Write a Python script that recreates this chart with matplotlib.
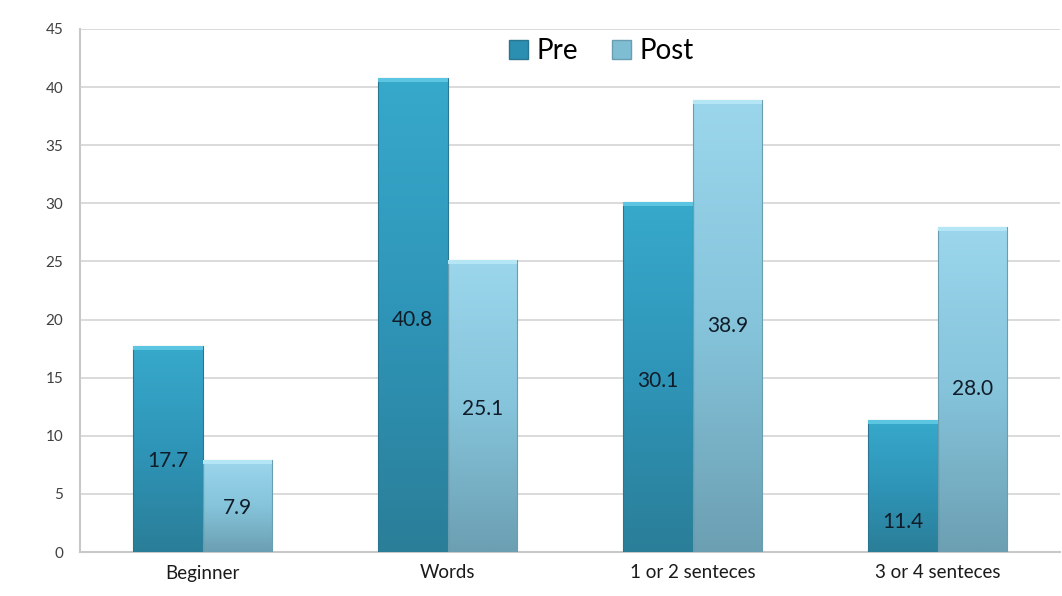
import matplotlib
matplotlib.use("Agg")
import matplotlib.pyplot as plt
import numpy as np
from matplotlib.patches import Patch
from matplotlib.colors import LinearSegmentedColormap

categories = ["Beginner", "Words", "1 or 2 senteces", "3 or 4 senteces"]
pre_values = [17.7, 40.8, 30.1, 11.4]
post_values = [7.9, 25.1, 38.9, 28.0]
series_names = ["Pre", "Post"]
yticks = [0, 5, 10, 15, 20, 25, 30, 35, 40, 45]
label_frac_pre = [0.44, 0.49, 0.49, 0.23]
label_frac_post = [0.48, 0.49, 0.5, 0.5]

plt.rcParams['font.family'] = ['Lato', 'DejaVu Sans']

fig = plt.figure(figsize=(10.62, 5.96), dpi=100)
ax = fig.add_axes([80/1062, 44/596, 980/1062, 523/596])

pre_cmap = LinearSegmentedColormap.from_list("pre", ["#2a7e98", "#2f95b8", "#37a9cb"])
post_cmap = LinearSegmentedColormap.from_list("post", ["#6c9fb2", "#85c4db", "#9bd6ec"])

x = np.arange(len(categories))
w = 0.285

def draw_bars(xs, vals, cmap, capcol, edgecol):
    bars = ax.bar(xs, vals, width=w, color="none", edgecolor="none", zorder=3)
    grad = np.linspace(0, 1, 256).reshape(-1, 1)
    for b, v in zip(bars, vals):
        x0 = b.get_x()
        im = ax.imshow(grad, cmap=cmap, origin="lower", aspect="auto",
                       extent=[x0, x0 + w, 0, v], zorder=3)
        im.set_clip_path(b)
        ax.bar(b.get_x() + w/2, v, width=w, color="none", edgecolor=edgecol, linewidth=0.8, zorder=4)
        ax.bar(b.get_x() + w/2, 0.35, bottom=v - 0.35, width=w, color=capcol, edgecolor="none", zorder=5)
    return bars

draw_bars(x - w/2, pre_values, pre_cmap, "#5cc6e2", "#2a7590")
draw_bars(x + w/2, post_values, post_cmap, "#b4e6f5", "#6a9db0")

for i in range(len(categories)):
    ax.text(x[i] - w/2, pre_values[i] * label_frac_pre[i], f"{pre_values[i]:.1f}",
            ha="center", va="center", fontsize=15, color="#101c28", zorder=6)
    ax.text(x[i] + w/2, post_values[i] * label_frac_post[i], f"{post_values[i]:.1f}",
            ha="center", va="center", fontsize=15, color="#101c28", zorder=6)

ax.set_xlim(-0.5, 3.5)
ax.set_ylim(0, 45)
ax.set_yticks(yticks)
ax.set_yticklabels([str(t) for t in yticks], fontsize=11, color="#404040")
ax.set_xticks(x)
ax.set_xticklabels(categories, fontsize=13.5, color="#1a1a1a")
ax.tick_params(axis="both", length=0, pad=12)
ax.tick_params(axis="x", pad=9)
ax.grid(axis="y", color="#d4d4d4", linewidth=1.2, zorder=0)
ax.set_axisbelow(True)
for s in ["top", "right"]:
    ax.spines[s].set_visible(False)
ax.spines["left"].set_color("#c8c8c8")
ax.spines["left"].set_linewidth(1.5)
ax.spines["bottom"].set_color("#c8c8c8")
ax.spines["bottom"].set_linewidth(1.5)

handles = [Patch(facecolor="#2a8fb0", edgecolor="#2a7590"),
           Patch(facecolor="#7fbdd3", edgecolor="#6a9db0")]
ax.legend(handles, series_names, loc="upper center", bbox_to_anchor=(0.532, 1.03),
          ncol=2, frameon=False, fontsize=20, handlelength=0.7, handleheight=0.7,
          handletextpad=0.3, columnspacing=1.2)

fig.savefig("out.png", dpi=100)
